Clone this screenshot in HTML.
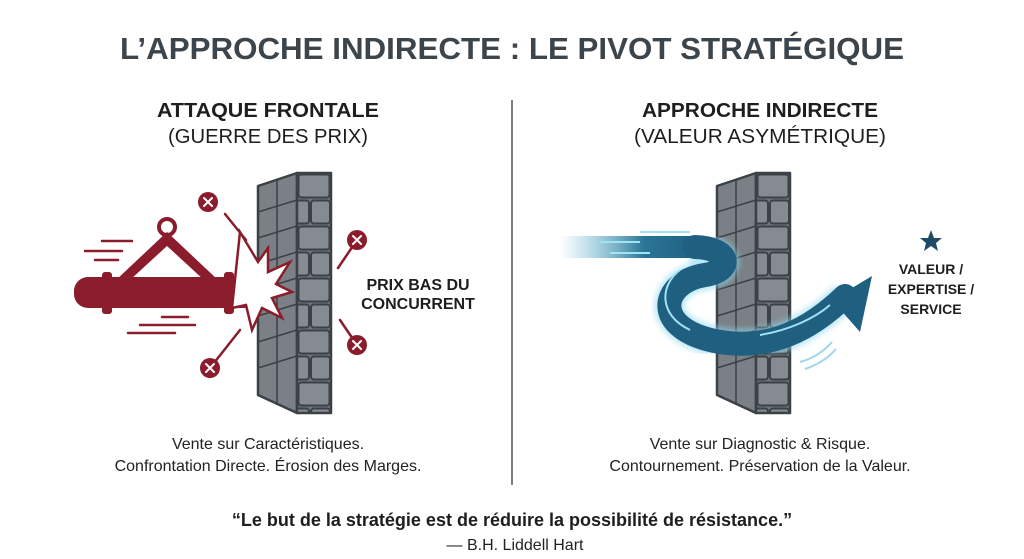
<!DOCTYPE html>
<html><head><meta charset="utf-8"><style>
html,body{margin:0;padding:0;background:#fff;}
svg{display:block;font-family:"Liberation Sans",sans-serif;}
</style></head><body>
<svg width="1024" height="559" viewBox="0 0 1024 559" xmlns="http://www.w3.org/2000/svg">
<defs>
<pattern id="br" x="297" y="173" width="34" height="52" patternUnits="userSpaceOnUse">
<rect width="34" height="52" fill="#6f767b"/>
<rect x="1.5" y="1.5" width="31" height="23" rx="3" fill="#858b90" stroke="#3b4146" stroke-width="2"/>
<rect x="-9" y="27.5" width="21" height="23" rx="3" fill="#858b90" stroke="#3b4146" stroke-width="2"/>
<rect x="14" y="27.5" width="19" height="23" rx="3" fill="#858b90" stroke="#3b4146" stroke-width="2"/>
</pattern>
<pattern id="br2" x="756" y="173" width="34" height="52" patternUnits="userSpaceOnUse">
<rect width="34" height="52" fill="#6f767b"/>
<rect x="1.5" y="1.5" width="31" height="23" rx="3" fill="#858b90" stroke="#3b4146" stroke-width="2"/>
<rect x="-9" y="27.5" width="21" height="23" rx="3" fill="#858b90" stroke="#3b4146" stroke-width="2"/>
<rect x="14" y="27.5" width="19" height="23" rx="3" fill="#858b90" stroke="#3b4146" stroke-width="2"/>
</pattern>
<linearGradient id="fade" x1="560" x2="700" gradientUnits="userSpaceOnUse"><stop offset="0" stop-color="#4fb3d6" stop-opacity="0"/><stop offset="0.6" stop-color="#2a7596"/><stop offset="1" stop-color="#1f5f80"/></linearGradient>
<filter id="gl"><feGaussianBlur stdDeviation="3"/></filter>
</defs>
<rect width="1024" height="559" fill="#fff"/>
<text x="512" y="59" text-anchor="middle" font-size="31" font-weight="bold" fill="#3d454c" textLength="784" lengthAdjust="spacingAndGlyphs">L’APPROCHE INDIRECTE : LE PIVOT STRATÉGIQUE</text>
<line x1="512" y1="100" x2="512" y2="485" stroke="#555" stroke-width="1.5"/>
<g text-anchor="middle" fill="#1e1e1e">
<text x="268" y="117" font-size="20" font-weight="bold" textLength="222" lengthAdjust="spacingAndGlyphs">ATTAQUE FRONTALE</text>
<text x="268" y="143" font-size="20" textLength="200" lengthAdjust="spacingAndGlyphs">(GUERRE DES PRIX)</text>
<text x="760" y="117" font-size="20" font-weight="bold" textLength="236" lengthAdjust="spacingAndGlyphs">APPROCHE INDIRECTE</text>
<text x="760" y="143" font-size="20" textLength="252" lengthAdjust="spacingAndGlyphs">(VALEUR ASYMÉTRIQUE)</text>
</g>
<g stroke="#3b4146" stroke-width="2.5" stroke-linejoin="round">
<polygon points="258,186 297,173 297,413 258,395" fill="#7a8085"/>
<rect x="297" y="173" width="34" height="240" fill="url(#br)"/>
<polygon points="717,186 756,173 756,413 717,395" fill="#7a8085"/>
<rect x="756" y="173" width="34" height="240" fill="url(#br2)"/>
</g>
<g stroke="#3b4146" stroke-width="1.5" fill="none">
<path d="M258,212 L297,200 M258,238 L297,226 M258,264 L297,252 M258,290 L297,278 M258,316 L297,304 M258,342 L297,330 M258,368 L297,356 M277,180 V405 M717,212 L756,200 M717,238 L756,226 M717,264 L756,252 M717,290 L756,278 M717,316 L756,304 M717,342 L756,330 M717,368 L756,356 M736,180 V405"/>
</g>
<g fill="#8b1c2b">
<rect x="74" y="277" width="188" height="31" rx="14"/>
<rect x="102" y="272" width="10" height="42" rx="3"/>
<rect x="224" y="272" width="10" height="42" rx="3"/>
<path d="M236,277 h12 a16 16 0 0 1 0 31 h-12z"/>
<polygon points="167,232 116,280 130,280 167,246 204,280 218,280" />
<circle cx="167" cy="227" r="8" fill="none" stroke="#8b1c2b" stroke-width="4"/>
</g>
<g stroke="#8b1c2b" stroke-width="2.5" stroke-linecap="round">
<line x1="102" y1="241" x2="132" y2="241"/><line x1="85" y1="251" x2="122" y2="251"/><line x1="95" y1="260" x2="118" y2="260"/>
<line x1="162" y1="317" x2="188" y2="317"/><line x1="140" y1="325" x2="195" y2="325"/><line x1="128" y1="333" x2="175" y2="333"/>
<line x1="225" y1="214" x2="246" y2="240"/><line x1="357" y1="240" x2="338" y2="268"/><line x1="357" y1="345" x2="340" y2="320"/><line x1="210" y1="368" x2="240" y2="330"/>
</g>
<polygon points="240,232 258,262 268,248 268,272 290,262 276,284 292,292 272,298 282,318 262,308 252,330 246,305 232,308" fill="#fff" stroke="#8b1c2b" stroke-width="2.5"/>
<g fill="#8b1c2b"><circle cx="208" cy="202" r="10"/><circle cx="357" cy="240" r="10"/><circle cx="357" cy="345" r="10"/><circle cx="210" cy="368" r="10"/></g>
<g stroke="#fff" stroke-width="2" stroke-linecap="round">
<path d="M204,198 l8,8 m0,-8 l-8,8 M353,236 l8,8 m0,-8 l-8,8 M353,341 l8,8 m0,-8 l-8,8 M206,364 l8,8 m0,-8 l-8,8"/>
</g>
<g text-anchor="middle" font-size="16" font-weight="bold" fill="#1e1e1e">
<text x="418" y="290">PRIX BAS DU</text><text x="418" y="309">CONCURRENT</text>
</g>
<!-- right arrow -->
<path d="M690,247 C730,248 735,270 705,275 C660,282 650,330 720,342 C770,350 810,330 845,296" fill="none" stroke="#8fd8ef" stroke-width="30" filter="url(#gl)" opacity="0.6"/>
<path d="M560,247 L700,247" stroke="url(#fade)" stroke-width="22" fill="none"/>
<path d="M695,247 C730,248 735,270 705,275 C660,282 650,330 720,342 C770,350 810,330 845,296" fill="none" stroke="#1f5f80" stroke-width="24" stroke-linecap="round"/>
<polygon points="872,276 860,332 832,300" fill="#1f5f80"/>
<path d="M600,242 H640 M610,253 H650 M640,232 H690" stroke="#9fe3f5" stroke-width="2" fill="none"/>
<path d="M680,270 C660,285 658,315 690,330 M760,335 C790,330 815,318 830,305" stroke="#9fe3f5" stroke-width="2" fill="none"/>
<path d="M800,362 C815,358 825,350 832,342 M805,369 C820,364 830,356 836,349" stroke="#9fd6e8" stroke-width="2" fill="none"/>
<polygon points="931,230 934,238 942,238 936,243 938,251 931,246 924,251 926,243 920,238 928,238" fill="#1f4a66"/>
<g text-anchor="middle" font-size="14" font-weight="bold" fill="#1e1e1e">
<text x="931" y="274">VALEUR /</text><text x="931" y="294">EXPERTISE /</text><text x="931" y="314">SERVICE</text>
</g>
<g text-anchor="middle" font-size="16" fill="#222">
<text x="268" y="449">Vente sur Caractéristiques.</text>
<text x="268" y="471">Confrontation Directe. Érosion des Marges.</text>
<text x="760" y="449">Vente sur Diagnostic &amp; Risque.</text>
<text x="760" y="471">Contournement. Préservation de la Valeur.</text>
</g>
<text x="512" y="526" text-anchor="middle" font-size="18" font-weight="bold" fill="#1e1e1e">“Le but de la stratégie est de réduire la possibilité de résistance.”</text>
<text x="515" y="550" text-anchor="middle" font-size="16" fill="#222">— B.H. Liddell Hart</text>
</svg>
</body></html>
